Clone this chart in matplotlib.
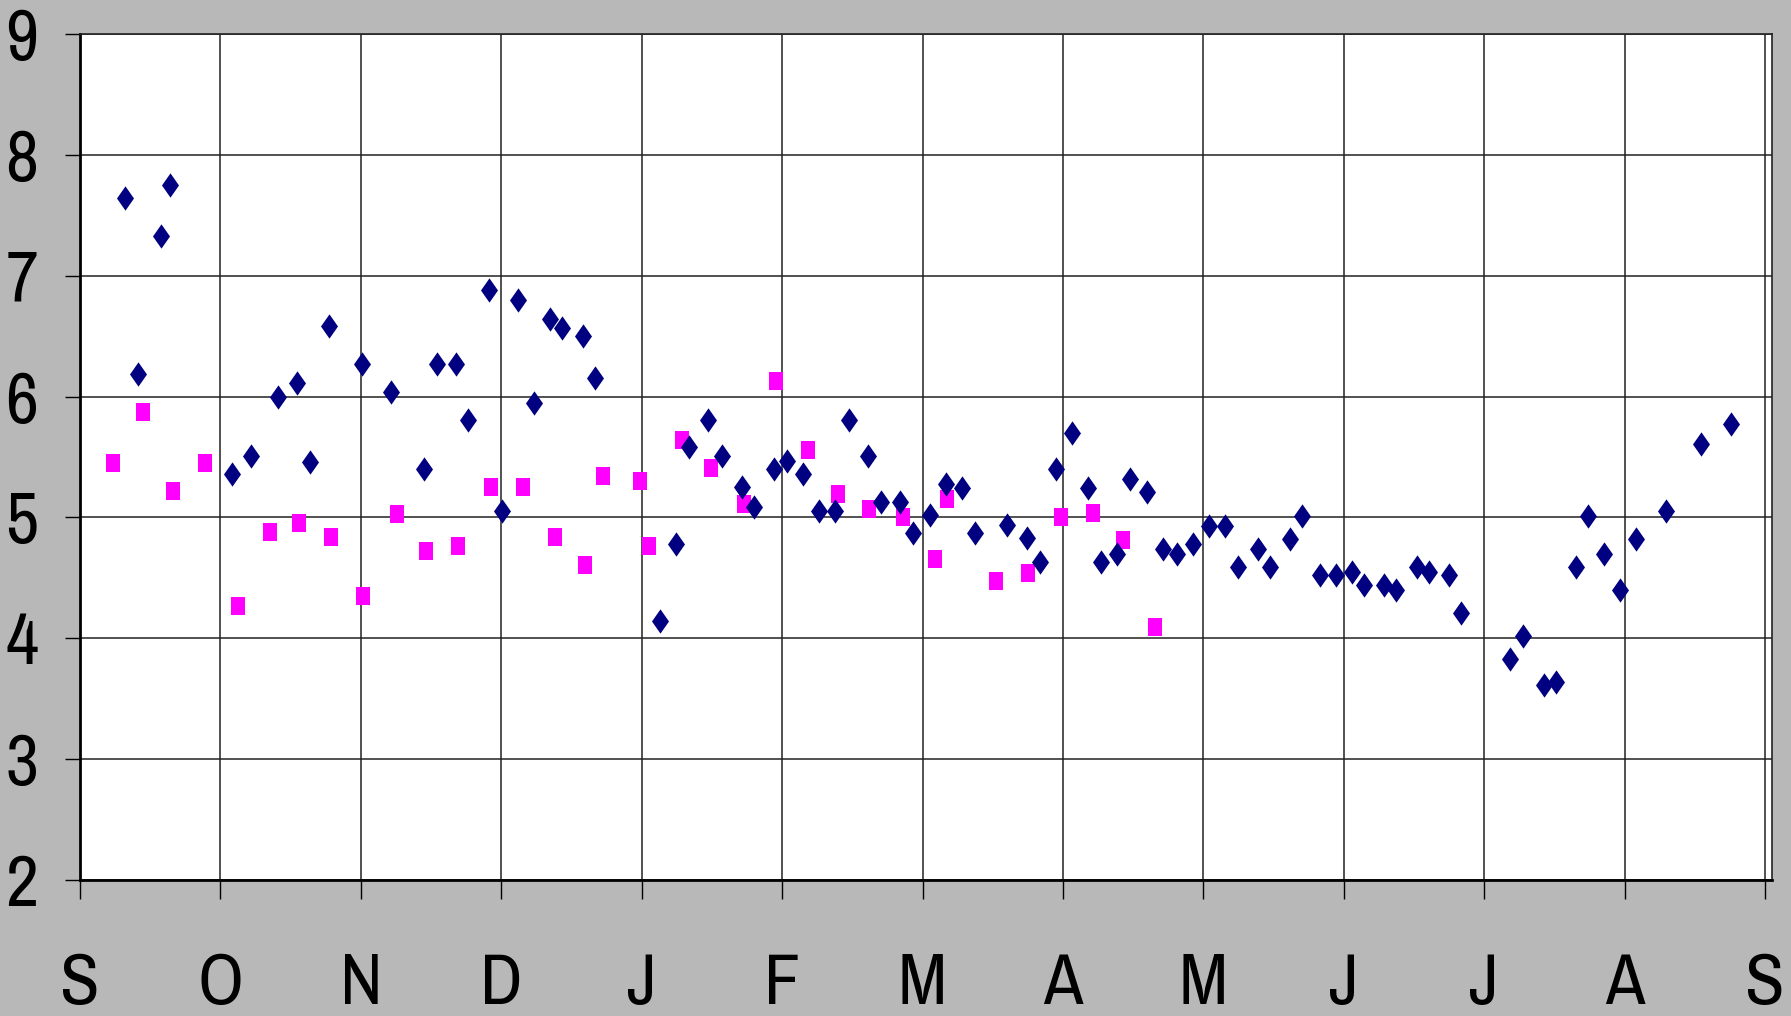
import matplotlib
matplotlib.use("Agg")
import matplotlib.pyplot as plt

# x positions are in months since 1 September (month ticks equally spaced)
blue_x = [0.317, 0.415, 0.578, 0.643, 1.082, 1.22, 1.408, 1.546, 1.635, 1.774,
          2.01, 2.213, 2.449, 2.539, 2.677, 2.766, 2.913, 3.002, 3.116, 3.23,
          3.344, 3.434, 3.58, 3.67, 4.133, 4.247, 4.337, 4.475, 4.573, 4.711,
          4.80, 4.939, 5.037, 5.15, 5.264, 5.378, 5.476, 5.614, 5.704, 5.842,
          5.932, 6.054, 6.168, 6.281, 6.371, 6.599, 6.745, 6.835, 6.949, 7.063,
          7.177, 7.274, 7.388, 7.478, 7.60, 7.714, 7.81, 7.925, 8.039, 8.153,
          8.25, 8.389, 8.478, 8.617, 8.706, 8.828, 8.942, 9.056, 9.145, 9.284,
          9.373, 9.52, 9.61, 9.748, 9.837, 10.187, 10.277, 10.423, 10.513, 10.651,
          10.74, 10.854, 10.968, 11.082, 11.294, 11.546, 11.757]
blue_y = [7.64, 6.19, 7.33, 7.75, 5.36, 5.51, 6.00, 6.11, 5.46, 6.58,
          6.27, 6.04, 5.40, 6.27, 6.27, 5.81, 6.88, 5.05, 6.80, 5.95,
          6.64, 6.57, 6.50, 6.15, 4.14, 4.78, 5.58, 5.81, 5.51, 5.25,
          5.09, 5.40, 5.47, 5.36, 5.05, 5.05, 5.81, 5.51, 5.13, 5.13,
          4.87, 5.02, 5.28, 5.24, 4.87, 4.94, 4.83, 4.63, 5.40, 5.70,
          5.24, 4.63, 4.70, 5.32, 5.21, 4.74, 4.70, 4.78, 4.93, 4.93,
          4.59, 4.74, 4.59, 4.82, 5.01, 4.52, 4.52, 4.55, 4.44, 4.44,
          4.40, 4.59, 4.55, 4.52, 4.21, 3.83, 4.02, 3.61, 3.64, 4.59,
          5.01, 4.70, 4.40, 4.82, 5.05, 5.61, 5.77]

pink_x = [0.236, 0.447, 0.659, 0.887, 1.123, 1.351, 1.562, 1.79, 2.018, 2.254,
          2.465, 2.693, 2.929, 3.157, 3.385, 3.596, 3.727, 3.987, 4.052, 4.288,
          4.491, 4.727, 4.955, 5.183, 5.395, 5.622, 5.858, 6.086, 6.176, 6.526,
          6.753, 6.989, 7.217, 7.429, 7.657]
pink_y = [5.45, 5.87, 5.22, 5.45, 4.27, 4.88, 4.95, 4.84, 4.35, 5.03,
          4.72, 4.76, 5.25, 5.25, 4.84, 4.61, 5.34, 5.30, 4.76, 5.64,
          5.41, 5.11, 6.13, 5.56, 5.19, 5.07, 5.00, 4.66, 5.15, 4.47,
          4.54, 5.00, 5.04, 4.81, 4.09]

month_labels = ["S", "O", "N", "D", "J", "F", "M", "A", "M", "J", "J", "A", "S"]
y_ticks = [2, 3, 4, 5, 6, 7, 8, 9]

font = ["Archivo Narrow", "DejaVu Sans"]

diamond = [(0, 1), (0.7, 0), (0, -1), (-0.7, 0), (0, 1)]
rect = [(-0.72, -1), (0.72, -1), (0.72, 1), (-0.72, 1), (-0.72, -1)]

fig = plt.figure(figsize=(17.91, 10.16), dpi=100, facecolor="#b8b8b8")
ax = fig.add_axes([0.0447, 0.1339, 0.9447, 0.8326])
ax.set_facecolor("white")

ax.plot(pink_x, pink_y, linestyle="none", marker=rect, markersize=13.5,
        color="#ff00ff", markeredgewidth=0, zorder=3)
ax.plot(blue_x, blue_y, linestyle="none", marker=diamond, markersize=17.5,
        color="#000080", markeredgewidth=0, zorder=4)

ax.set_xlim(0, 12.05)
ax.set_ylim(2, 9)
ax.set_xticks(range(13))
ax.set_xticklabels(month_labels)
ax.set_yticks(y_ticks)
ax.grid(True, color="#222222", linewidth=1.1)
ax.set_axisbelow(True)

for lab in ax.get_xticklabels() + ax.get_yticklabels():
    lab.set_family(font)
    lab.set_fontstretch("condensed")
    lab.set_fontsize(52)
ax.tick_params(axis="x", length=14, width=1, pad=38, color="black")
ax.tick_params(axis="y", length=11, width=1, pad=19, color="black")

for side in ["left", "bottom"]:
    ax.spines[side].set_linewidth(2)
    ax.spines[side].set_color("black")
for side in ["top", "right"]:
    ax.spines[side].set_linewidth(1.2)
    ax.spines[side].set_color("#222222")

fig.savefig("out.png", dpi=100, facecolor=fig.get_facecolor())
